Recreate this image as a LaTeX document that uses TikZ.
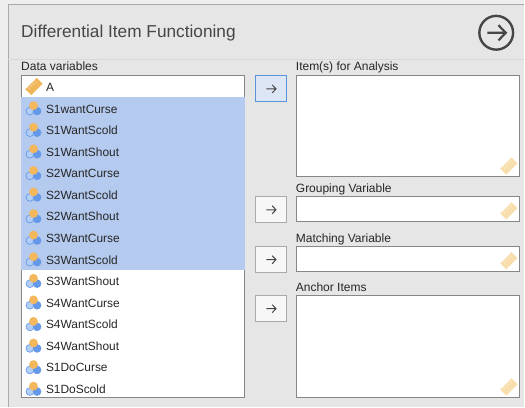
\documentclass[tikz,border=0pt]{standalone}
\usepackage{fontspec}
\setmainfont{Liberation Sans}
\usetikzlibrary{positioning, arrows}
\definecolor{panelgray}{RGB}{230, 230, 230}
\definecolor{outergray}{RGB}{238, 238, 238}
\definecolor{edgegray}{RGB}{170, 170, 170}
\definecolor{boxgray}{RGB}{135, 135, 135}
\definecolor{selblue}{RGB}{180, 202, 238}
\definecolor{btnblue}{RGB}{220, 230, 245}
\definecolor{btnedge}{RGB}{90, 148, 216}
\definecolor{rulerorange}{RGB}{240, 182, 90}
\definecolor{rulerpale}{RGB}{248, 222, 172}
\definecolor{nomorange}{RGB}{243, 183, 92}
\definecolor{nomblue}{RGB}{100, 152, 232}
\definecolor{nomlight}{RGB}{178, 206, 246}
\definecolor{inkgray}{RGB}{70, 70, 70}

\begin{document}
\begin{tikzpicture}[x=0.75pt, y=-0.75pt]
    % Styles
    \tikzstyle{varbox} = [rectangle, draw=boxgray, line width=0.75pt, fill=white, anchor=north west, inner sep=0pt, outer sep=0pt]
    \tikzstyle{btn} = [rectangle, draw=edgegray, line width=0.75pt, fill=white!97!black, minimum width=23.25pt, minimum height=19.5pt, anchor=north west, inner sep=0pt]
    \tikzstyle{activebtn} = [btn, draw=btnedge, fill=btnblue]
    \tikzstyle{varrow} = [rectangle, minimum height=16.2pt, text width=130.4pt, inner xsep=18.8pt, inner ysep=0pt, outer sep=0pt, text height=8.2pt, text depth=0.8pt, font=\fontsize{8.95}{10}\selectfont, text=black!85]
    \tikzstyle{selrow} = [varrow, fill=selblue]
    \tikzstyle{caption} = [anchor=base west, inner sep=0pt, font=\fontsize{9}{10}\selectfont, text=black!85]
    \tikzset{
        ruler/.pic={
            \begin{scope}[rotate=45]
                \fill[pic actions] (-8,-4.2) rectangle (8,4.2);
                \foreach \t in {-4.5,-1.5,1.5,4.5}
                    \draw[white, opacity=0.55, line width=0.4pt] (\t,-4.2) -- (\t,-1);
            \end{scope}
        },
        nominal/.pic={
            \draw[nomblue, line width=0.5pt, fill=nomlight] (-3.6,2.2) circle (3.9);
            \draw[nomblue, line width=0.5pt, fill=nomblue] (3.6,2.2) circle (3.9);
            \fill[nomorange] (0,-3.2) circle (4.4);
        },
        btnarrow/.pic={
            \draw[inkgray, line width=0.75pt] (-4.8,0) -- (4.8,0) (1,-4) -- (4.8,0) -- (1,4);
        }
    }

    % Panel
    \fill[outergray] (0,0) rectangle (525,407);
    \fill[panelgray] (8.5,4.5) rectangle (525,407);
    \draw[edgegray, line width=0.75pt] (8.5,407) |- (525,4.5);
    \draw[black!15, line width=0.9pt] (8.5,59.6) -- (525,59.6);
    \node (title) [anchor=west, inner sep=0pt, font=\fontsize{12.95}{16}\selectfont, text=inkgray] at (21,33) {Differential Item Functioning};
    \draw[inkgray, line width=1.8pt] (496.8,32.8) circle (16.9);
    \draw[inkgray, line width=1.6pt] (488,32.8) -- (506.5,32.8) (499,25.2) -- (506.5,32.8) -- (499,40.4);

    % Variable list
    \node (datalabel) [caption] at (21,71) {Data variables};
    \node (varlist) [varbox, minimum width=167.25pt, minimum height=241.9pt] at (21.5,75.5) {};
    \node (rowA) [varrow] at (133,86.6) {A};
    \node (row1) [selrow, below=0pt of rowA] {S1wantCurse};
    \node (row2) [selrow, below=0pt of row1] {S1WantScold};
    \node (row3) [selrow, below=0pt of row2] {S1WantShout};
    \node (row4) [selrow, below=0pt of row3] {S2WantCurse};
    \node (row5) [selrow, below=0pt of row4] {S2WantScold};
    \node (row6) [selrow, below=0pt of row5] {S2WantShout};
    \node (row7) [selrow, below=0pt of row6] {S3WantCurse};
    \node (row8) [selrow, below=0pt of row7] {S3WantScold};
    \node (row9) [varrow, below=0pt of row8] {S3WantShout};
    \node (row10) [varrow, below=0pt of row9] {S4WantCurse};
    \node (row11) [varrow, below=0pt of row10] {S4WantScold};
    \node (row12) [varrow, below=0pt of row11] {S4WantShout};
    \node (row13) [varrow, below=0pt of row12] {S1DoCurse};
    \node (row14) [varrow, below=0pt of row13] {S1DoScold};
    \pic[fill=rulerorange] at ([xshift=9.75pt]rowA.west) {ruler};
    \foreach \r in {1,...,14}
        \pic at ([xshift=9.4pt, yshift=-0.6pt]row\r.west) {nominal};

    % Target boxes
    \node (itemslabel) [caption] at (296,71) {Item(s) for Analysis};
    \node (itemsbox) [varbox, minimum width=168pt, minimum height=76.1pt] at (296.5,75.5) {};
    \node (grouplabel) [caption] at (296,193) {Grouping Variable};
    \node (groupbox) [varbox, minimum width=168pt, minimum height=19pt] at (296.5,196.5) {};
    \node (matchlabel) [caption] at (296,242.3) {Matching Variable};
    \node (matchbox) [varbox, minimum width=168pt, minimum height=19pt] at (296.5,246.5) {};
    \node (anchorlabel) [caption] at (296,292) {Anchor Items};
    \node (anchorbox) [varbox, minimum width=168pt, minimum height=77pt] at (296.5,295.5) {};
    \foreach \b in {itemsbox,groupbox,matchbox,anchorbox}
        \pic[fill=rulerpale] at ([xshift=-8.25pt, yshift=8.1pt]\b.south east) {ruler};

    % Buttons
    \node (itemsbtn) [activebtn] at (255.5,75.5) {};
    \node (groupbtn) [btn] at (255.5,196.5) {};
    \node (matchbtn) [btn] at (255.5,246.5) {};
    \node (anchorbtn) [btn] at (255.5,295.5) {};
    \foreach \b in {itemsbtn,groupbtn,matchbtn,anchorbtn}
        \pic at (\b.center) {btnarrow};
\end{tikzpicture}
\end{document}
